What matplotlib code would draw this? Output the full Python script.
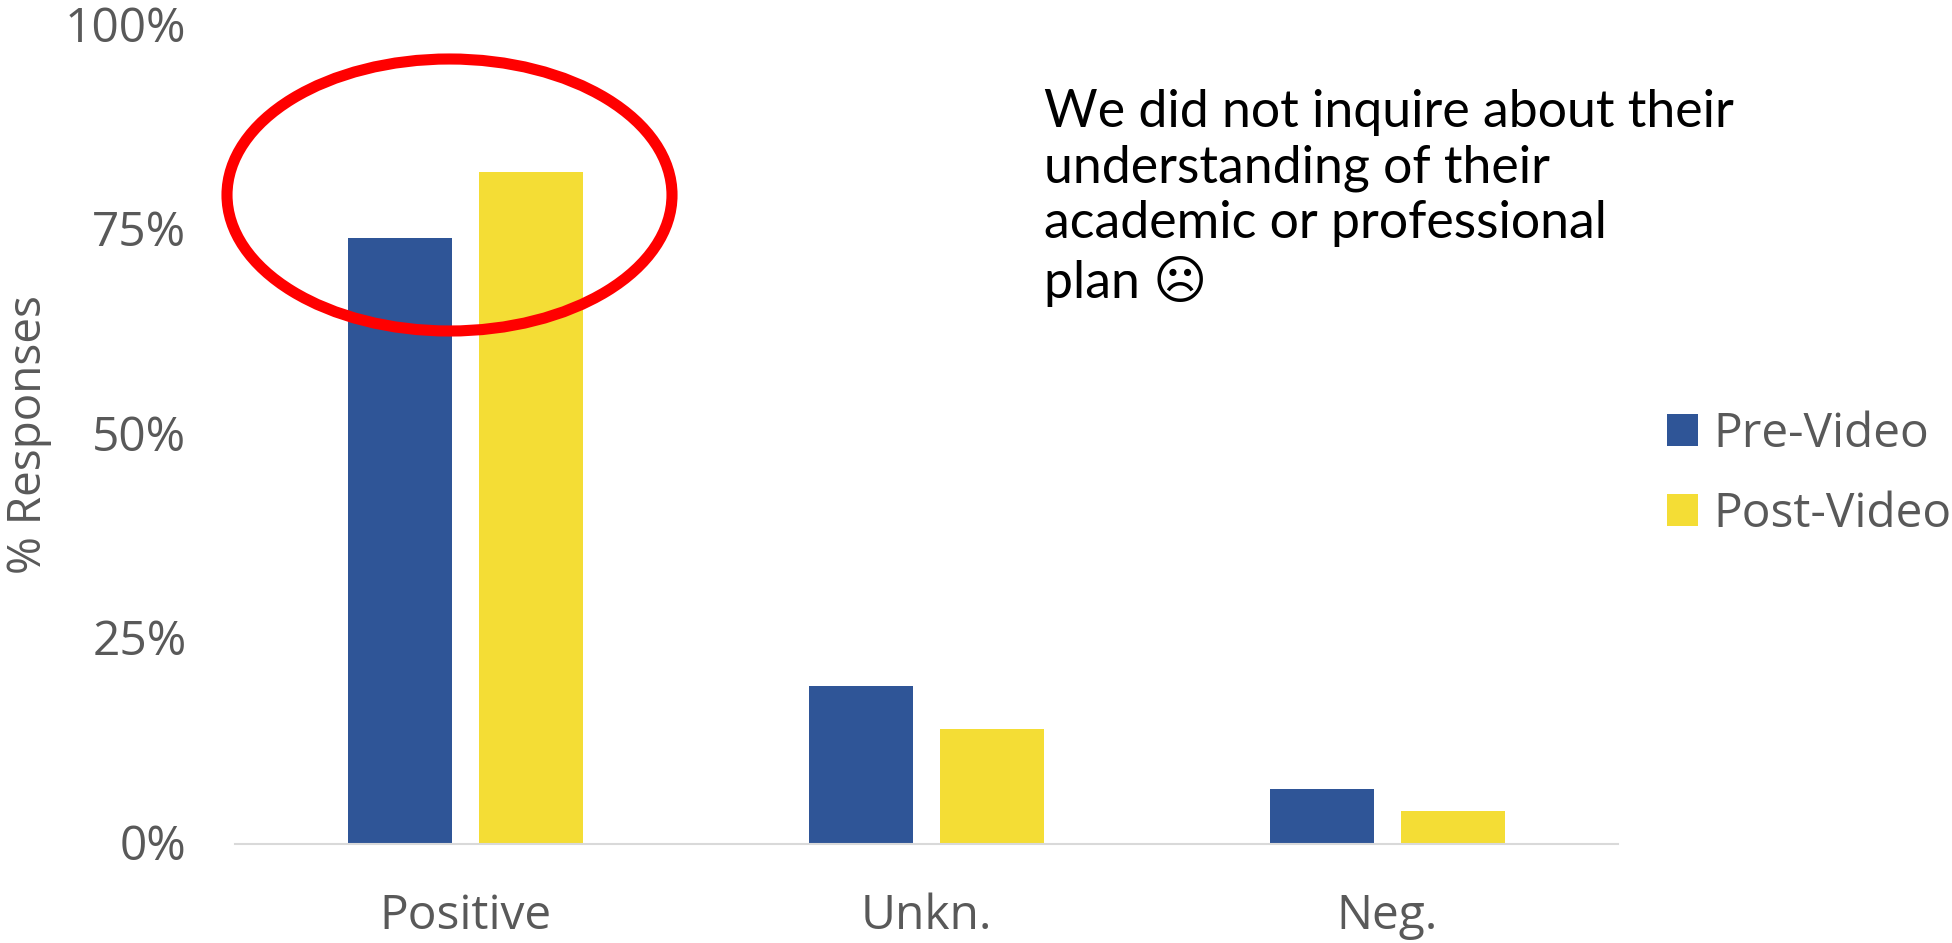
import matplotlib
matplotlib.use('Agg')
import matplotlib.pyplot as plt
from matplotlib.patches import Ellipse
from matplotlib.transforms import ScaledTranslation
import numpy as np

categories = ['Positive', 'Unkn.', 'Neg.']
pre_video = [74.1, 19.3, 6.7]
post_video = [82.1, 14.0, 4.0]
yticks = [0, 25, 50, 75, 100]
ytick_labels = ['0%', '25%', '50%', '75%', '100%']
note = 'We did not inquire about their\nunderstanding of their\nacademic or professional\nplan \u2639'

W, H = 1952, 943
GREY = '#595959'
plt.rcParams['font.family'] = ['Open Sans', 'DejaVu Sans']
fig = plt.figure(figsize=(W/100, H/100), dpi=100, facecolor='white')
L, R, T, B = 235, 1618, 26, 844
ax = fig.add_axes([L/W, 1-B/H, (R-L)/W, (B-T)/H])
x = np.arange(len(categories))
bw, off = 0.2245, 0.142
ax.bar(x-off, pre_video, bw, color='#2F5597', label='Pre-Video')
ax.bar(x+off, post_video, bw, color='#F4DD35', label='Post-Video')
ax.set_xlim(-0.5, 2.5)
ax.set_ylim(0, 100)
for s in ['top', 'right', 'left']:
    ax.spines[s].set_visible(False)
ax.spines['bottom'].set_color('#D9D9D9')
ax.spines['bottom'].set_linewidth(1.5)
ax.set_xticks(x, categories)
ax.set_yticks(yticks, ytick_labels)
ax.tick_params(axis='both', length=0, labelsize=34.5, labelcolor=GREY)
ax.tick_params(axis='x', pad=35)
ax.tick_params(axis='y', pad=35)
shift = ScaledTranslation(0, 2.5/100, fig.dpi_scale_trans)
for lab in ax.get_yticklabels():
    lab.set_transform(lab.get_transform() + shift)
fig.text(29/W, 1-435/H, '% Responses', rotation=90, ha='center', va='center', fontsize=33, color=GREY)
ax.legend(loc='center left', bbox_to_anchor=(1667/W, 1-474/H), bbox_transform=fig.transFigure,
          frameon=False, fontsize=34.5, labelcolor=GREY, handlelength=0.65, handleheight=0.65,
          handletextpad=0.31, labelspacing=0.67, borderpad=0, borderaxespad=0)
fig.text(1044/W, 1-198/H, note, ha='left', va='center', fontsize=37.4, color='black',
         family=['Lato', 'DejaVu Sans'], linespacing=1.22)
fig.add_artist(Ellipse((449.5/W, 1-195/H), 445/W, 272/H, transform=fig.transFigure,
                       fill=False, edgecolor='#FF0000', linewidth=8))
fig.savefig('out.png', dpi=100)
